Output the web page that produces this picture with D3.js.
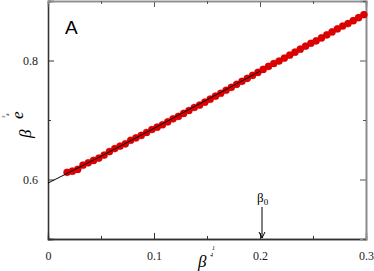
<!DOCTYPE html>
<html>
<head>
<meta charset="utf-8">
<script src="https://cdn.jsdelivr.net/npm/d3@7/dist/d3.min.js"></script>
<style>
  body { margin: 0; background: #fff; }
  svg { display: block; }
</style>
</head>
<body>
<script>
// data
const xValues = [0.018,0.023,0.028,0.033,0.038,0.043,0.048,0.053,0.058,0.063,
  0.068,0.073,0.078,0.083,0.088,0.093,0.098,0.103,0.108,0.113,
  0.118,0.123,0.128,0.133,0.138,0.143,0.148,0.153,0.158,0.163,
  0.168,0.173,0.178,0.183,0.188,0.193,0.198,0.203,0.208,0.213,
  0.218,0.223,0.228,0.233,0.238,0.243,0.248,0.253,0.258,0.263,
  0.268,0.273,0.278,0.283,0.288,0.293,0.298];
const yValues = [0.612,0.614,0.617,0.624,0.628,0.632,0.636,0.641,0.647,0.652,
  0.656,0.660,0.666,0.670,0.674,0.679,0.684,0.688,0.692,0.697,
  0.702,0.706,0.711,0.716,0.721,0.725,0.730,0.735,0.740,0.745,
  0.750,0.755,0.760,0.765,0.770,0.775,0.780,0.785,0.790,0.795,
  0.799,0.804,0.809,0.814,0.819,0.824,0.829,0.833,0.838,0.843,
  0.848,0.853,0.858,0.862,0.867,0.872,0.877];
const fitX = [0, 0.05, 0.1, 0.15, 0.2];
const fitY = [0.594, 0.639, 0.686, 0.734, 0.782];
const xTicks = [0, 0.1, 0.2, 0.3];
const xMinor = [0.05, 0.15, 0.25];
const yTicks = [0.6, 0.8];
const yMinor = [0.5, 0.7, 0.9];
const beta0 = 0.2;

function main(){
    const width = 374, height = 271;
    const left = 48, right = 366, top = 1, bottom = 239;

    const svg = d3.select('body').append('svg')
        .attr('width', width)
        .attr('height', height);

    const x = d3.scaleLinear().domain([0, 0.3]).range([left, right]);
    const y = d3.scaleLinear().domain([0.5, 0.9]).range([bottom, top]);

    // axes, ticks pointing inward
    const tickFmt = d => d === 0 ? '0' : d3.format('.1f')(d);
    const serif = '"Liberation Serif", "DejaVu Serif", serif';

    const gx = svg.append('g').attr('transform', `translate(0,${bottom})`)
        .call(d3.axisBottom(x).tickValues(xTicks).tickSize(-6).tickPadding(12).tickFormat(tickFmt));
    const gxm = svg.append('g').attr('transform', `translate(0,${bottom})`)
        .call(d3.axisBottom(x).tickValues(xMinor).tickSize(-3).tickFormat(''));
    const gy = svg.append('g').attr('transform', `translate(${left},0)`)
        .call(d3.axisLeft(y).tickValues(yTicks).tickSize(-6).tickPadding(10).tickFormat(d3.format('.1f')));
    const gym = svg.append('g').attr('transform', `translate(${left},0)`)
        .call(d3.axisLeft(y).tickValues(yMinor).tickSize(-3).tickFormat(''));
    const gt = svg.append('g').attr('transform', `translate(0,${top})`)
        .call(d3.axisTop(x).tickValues(xTicks).tickSize(-6).tickFormat(''));
    const gtm = svg.append('g').attr('transform', `translate(0,${top})`)
        .call(d3.axisTop(x).tickValues(xMinor).tickSize(-3).tickFormat(''));
    const gr = svg.append('g').attr('transform', `translate(${right},0)`)
        .call(d3.axisRight(y).tickValues(yTicks).tickSize(-6).tickFormat(''));
    const grm = svg.append('g').attr('transform', `translate(${right},0)`)
        .call(d3.axisRight(y).tickValues(yMinor).tickSize(-3).tickFormat(''));

    [gx, gxm, gy, gym].forEach(g => {
        g.select('.domain').attr('stroke', '#333').attr('stroke-width', 1.3);
        g.selectAll('line').attr('stroke', '#333');
    });
    [gt, gtm, gr, grm].forEach(g => {
        g.select('.domain').attr('stroke', '#8c8c8c').attr('stroke-width', 1.6);
        g.selectAll('line').attr('stroke', '#555');
    });
    svg.selectAll('g').attr('font-family', serif);
    svg.selectAll('.tick text')
        .style('font-family', serif)
        .attr('font-size', 12)
        .attr('fill', '#222');

    // data points
    svg.append('g').selectAll('circle')
        .data(xValues)
        .enter()
        .append('circle')
        .attr('cx', d => x(d))
        .attr('cy', (d, i) => y(yValues[i]))
        .attr('r', 3.6)
        .attr('fill', '#dc0000')
        .attr('stroke', '#c80000')
        .attr('stroke-width', 0.3);

    // fitted line
    svg.append('path')
        .datum(fitX)
        .attr('d', d3.line().x(d => x(d)).y((d, i) => y(fitY[i])))
        .attr('fill', 'none')
        .attr('stroke', '#000')
        .attr('stroke-width', 1);

    // panel label
    svg.append('text')
        .attr('x', 65).attr('y', 34)
        .attr('font-family', '"Liberation Sans", Arial, sans-serif')
        .attr('font-size', 19)
        .text('A');

    // beta0 arrow
    const ax = x(beta0) + 2;
    svg.append('line')
        .attr('x1', ax).attr('x2', ax)
        .attr('y1', 207).attr('y2', bottom - 1)
        .attr('stroke', '#000').attr('stroke-width', 1);
    svg.append('path')
        .attr('d', `M${ax - 3},${bottom - 7}L${ax},${bottom - 1}L${ax + 3},${bottom - 7}`)
        .attr('fill', 'none').attr('stroke', '#000').attr('stroke-width', 1);
    const b0 = svg.append('text')
        .attr('x', 257).attr('y', 202)
        .style('font-family', serif)
        .attr('font-size', 13);
    b0.append('tspan').text('β');
    b0.append('tspan').attr('font-size', 9).attr('dy', 3).text('0');

    // x axis label: beta^(1/4)
    svg.append('text')
        .attr('x', 198).attr('y', 267)
        .style('font-family', serif)
        .attr('font-style', 'italic')
        .attr('font-size', 17)
        .text('β');
    svg.append('text')
        .attr('x', 212).attr('y', 250)
        .style('font-family', serif).attr('font-style', 'italic')
        .attr('font-size', 6).text('1');
    svg.append('text')
        .attr('x', 210).attr('y', 257)
        .style('font-family', serif).attr('font-style', 'italic')
        .attr('font-size', 6).text('4');

    // y axis label: beta^(3/4) e
    svg.append('text')
        .attr('transform', 'translate(31,138) rotate(-90)')
        .style('font-family', serif).attr('font-style', 'italic')
        .attr('font-size', 17).text('β');
    svg.append('text')
        .attr('transform', 'translate(23,119) rotate(-90)')
        .style('font-family', serif).attr('font-style', 'italic')
        .attr('font-size', 17).text('e');
    svg.append('text')
        .attr('transform', 'translate(5,118) rotate(-90)')
        .style('font-family', serif).attr('font-style', 'italic')
        .attr('font-size', 5).text('3');
    svg.append('text')
        .attr('transform', 'translate(9,116) rotate(-90)')
        .style('font-family', serif).attr('font-style', 'italic')
        .attr('font-size', 5).text('4');
}
main();
</script>
</body>
</html>
